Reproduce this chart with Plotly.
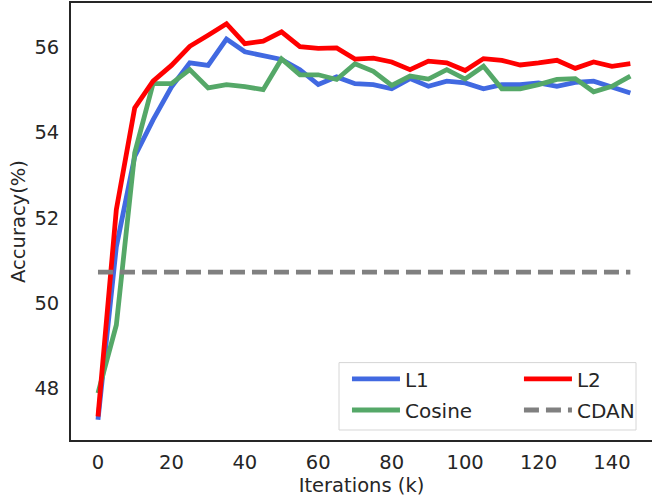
import plotly.graph_objects as go

iterations = [0, 5, 10, 15, 20, 25, 30, 35, 40, 45, 50, 55, 60, 65, 70, 75, 80, 85, 90, 95,
              100, 105, 110, 115, 120, 125, 130, 135, 140, 145]
l1 = [47.25, 51.32, 53.44, 54.30, 55.07, 55.64, 55.58, 56.20, 55.90, 55.82, 55.72, 55.48,
      55.13, 55.31, 55.15, 55.13, 55.03, 55.27, 55.09, 55.21, 55.17, 55.03, 55.13, 55.13,
      55.17, 55.09, 55.18, 55.21, 55.07, 54.93]
l2 = [47.33, 52.19, 54.58, 55.21, 55.58, 56.03, 56.29, 56.56, 56.09, 56.15, 56.37, 56.02,
      55.98, 55.99, 55.73, 55.75, 55.66, 55.48, 55.68, 55.64, 55.46, 55.74, 55.70, 55.59,
      55.64, 55.70, 55.51, 55.66, 55.56, 55.62]
cosine = [47.88, 49.48, 53.52, 55.15, 55.15, 55.48, 55.05, 55.13, 55.08, 55.01, 55.73, 55.36,
          55.36, 55.25, 55.62, 55.44, 55.11, 55.33, 55.26, 55.48, 55.26, 55.56, 55.03, 55.03,
          55.13, 55.25, 55.27, 54.96, 55.09, 55.33]
cdan_value = 50.72
cdan = [cdan_value] * len(iterations)

font = "DejaVu Sans"
txt = "#262626"
fs = 19.5
lfs = 20
lw = 4.8

fig = go.Figure()
fig.add_trace(go.Scatter(x=iterations, y=l1, mode="lines", name="L1",
                         line=dict(color="#4169E1", width=lw), legend="legend"))
fig.add_trace(go.Scatter(x=iterations, y=cosine, mode="lines", name="Cosine",
                         line=dict(color="#55A868", width=lw), legend="legend2"))
fig.add_trace(go.Scatter(x=iterations, y=l2, mode="lines", name="L2",
                         line=dict(color="#FF0000", width=lw), legend="legend3"))
fig.add_trace(go.Scatter(x=iterations, y=cdan, mode="lines", name="CDAN",
                         line=dict(color="#808080", width=lw, dash="15px,7px"), legend="legend4"))

def leg(x, y):
    return dict(x=x, xanchor="left", y=y, yanchor="middle", itemwidth=48,
                bgcolor="rgba(0,0,0,0)", borderwidth=0,
                font=dict(family=font, size=lfs, color=txt))

fig.update_layout(
    width=652, height=500,
    margin=dict(l=71, r=0, t=3, b=60),
    paper_bgcolor="white", plot_bgcolor="white",
    font=dict(family=font, size=fs, color=txt),
    showlegend=True,
    legend=leg(0.4750, 0.1397),
    legend2=leg(0.4750, 0.0687),
    legend3=leg(0.7710, 0.1397),
    legend4=leg(0.7710, 0.0687),
    shapes=[dict(type="rect", xref="paper", yref="paper", x0=0.4613, x1=0.9725,
                 y0=0.0229, y1=0.1771, line=dict(color="#d6d6d6", width=1),
                 fillcolor="white", layer="below")],
    xaxis=dict(
        range=[-7.35, 150.9], tickvals=[0, 20, 40, 60, 80, 100, 120, 140],
        showgrid=False, zeroline=False, showline=True, linecolor=txt, linewidth=1.7,
        mirror=True, ticks="", ticklabelstandoff=4, automargin=False,
        title=dict(text="Iterations (k)", standoff=2, font=dict(size=fs, color=txt)),
    ),
    yaxis=dict(
        range=[46.776, 57.047], tickvals=[48, 50, 52, 54, 56],
        showgrid=False, zeroline=False, showline=True, linecolor=txt, linewidth=1.7,
        mirror=False, ticks="", ticklabelstandoff=6, automargin=False,
        title=dict(text="Accuracy(%)", standoff=4, font=dict(size=fs, color=txt)),
    ),
)

fig.write_html("out.html", config={"displayModeBar": False},
               post_script="document.body.style.margin='0';")
